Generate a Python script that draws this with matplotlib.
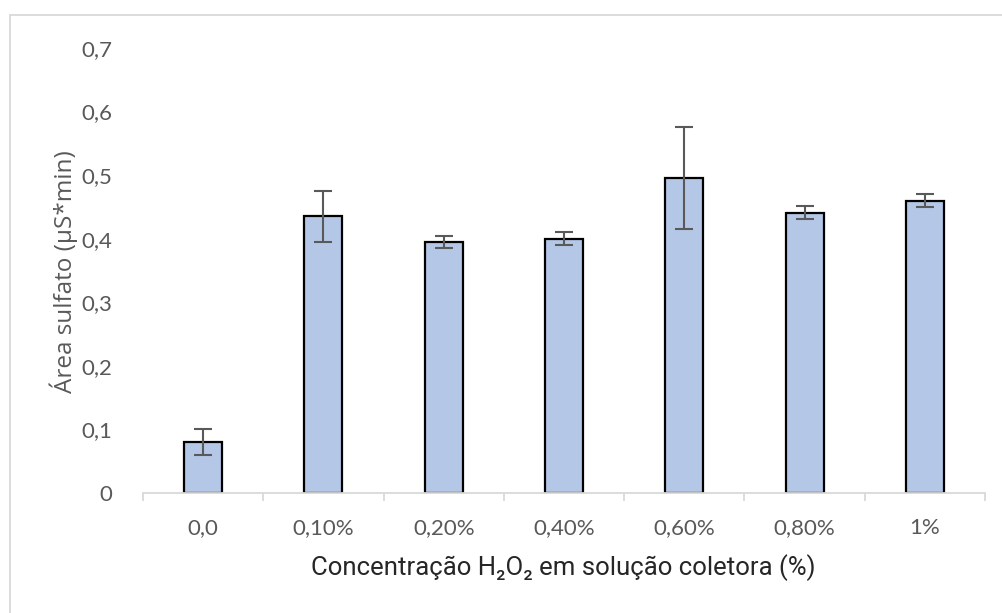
import matplotlib
matplotlib.use("Agg")
import matplotlib.pyplot as plt
from matplotlib.patches import Rectangle
from matplotlib.ticker import FixedLocator, FuncFormatter
import numpy as np

# Sulfate peak area for each H2O2 concentration in the collector solution
categories = ["0,0", "0,10%", "0,20%", "0,40%", "0,60%", "0,80%", "1%"]
area_mean = [0.080, 0.435, 0.395, 0.400, 0.495, 0.441, 0.460]
area_err = [0.020, 0.040, 0.010, 0.010, 0.080, 0.010, 0.010]
y_ticks = [0, 0.1, 0.2, 0.3, 0.4, 0.5, 0.6, 0.7]

W, H = 1003, 613
fig = plt.figure(figsize=(W / 100, H / 100), dpi=100)
fig.patch.set_facecolor("white")

# light chart-area frame
fig.patches.append(Rectangle((10 / W, -0.05), 1.1, 1 - 15 / H + 0.05,
                             transform=fig.transFigure, fill=False,
                             edgecolor="#d9d9d9", linewidth=1.3))

left, right, bottom, top = 143, 985, 493, 48
ax = fig.add_axes([left / W, 1 - bottom / H, (right - left) / W, (bottom - top) / H])

x = np.arange(len(categories))
ax.bar(x, area_mean, width=0.315, color="#B4C7E7", edgecolor="black",
       linewidth=1.6, zorder=2)
ax.errorbar(x, area_mean, yerr=area_err, fmt="none", ecolor="#595959",
            elinewidth=1.5, capsize=6.5, capthick=1.5, zorder=3)

ax.set_xlim(-0.5, len(categories) - 0.5)
ax.set_ylim(0, 0.7)

for s in ["left", "right", "top"]:
    ax.spines[s].set_visible(False)
ax.spines["bottom"].set_color("#d9d9d9")
ax.spines["bottom"].set_linewidth(1.3)

tick_font = ["Lato", "DejaVu Sans"]
ax.set_xticks(x)
ax.set_xticklabels(categories, fontsize=16, color="#595959", family=tick_font)
ax.tick_params(axis="x", which="major", length=0, pad=18)
ax.xaxis.set_minor_locator(FixedLocator(np.arange(-0.5, len(categories), 1.0)))
ax.tick_params(axis="x", which="minor", length=6, width=1.3, color="#d9d9d9")

ax.set_yticks(y_ticks)
ax.yaxis.set_major_formatter(FuncFormatter(
    lambda v, p: "0" if abs(v) < 1e-9 else f"{v:.1f}".replace(".", ",")))
for lab in ax.get_yticklabels():
    lab.set_fontsize(16)
    lab.set_color("#595959")
    lab.set_family(tick_font)
ax.tick_params(axis="y", length=0, pad=22)

fig.text(64 / W, 1 - 272 / H, "Área sulfato (µS*min)", rotation=90,
         ha="center", va="center", fontsize=17.5, color="#595959",
         family=["Open Sans", "DejaVu Sans"])
fig.text(563 / W, 1 - 568 / H, "Concentração H₂O₂ em solução coletora (%)",
         ha="center", va="center", fontsize=18.5, color="#262626",
         family=["Roboto", "DejaVu Sans"])

fig.savefig("out.png", dpi=100, facecolor="white")
